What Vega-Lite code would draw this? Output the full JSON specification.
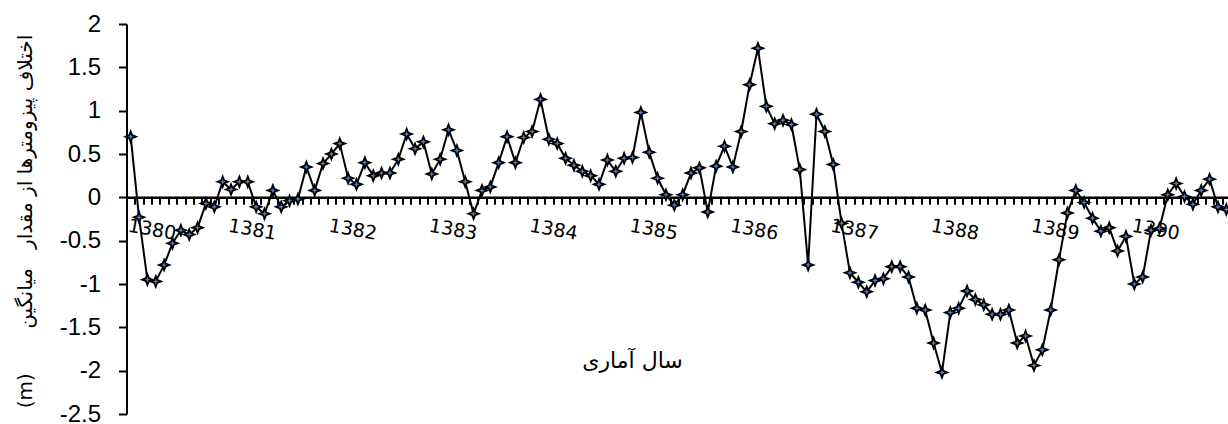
{
  "$schema": "https://vega.github.io/schema/vega-lite/v6.json",
  "autosize": "none",
  "padding": {"left": 126.5, "top": 24, "right": 0, "bottom": 10},
  "width": 1104,
  "height": 390,
  "config": {"view": {"stroke": null}, "background": "white"},
  "data": {"values": [
    {"i":0,"v":0.70},{"i":1,"v":-0.23},{"i":2,"v":-0.95},{"i":3,"v":-0.97},{"i":4,"v":-0.78},{"i":5,"v":-0.53},
    {"i":6,"v":-0.38},{"i":7,"v":-0.43},{"i":8,"v":-0.35},{"i":9,"v":-0.07},{"i":10,"v":-0.11},{"i":11,"v":0.18},
    {"i":12,"v":0.09},{"i":13,"v":0.18},{"i":14,"v":0.18},{"i":15,"v":-0.11},{"i":16,"v":-0.19},{"i":17,"v":0.08},
    {"i":18,"v":-0.11},{"i":19,"v":-0.04},{"i":20,"v":-0.02},{"i":21,"v":0.35},{"i":22,"v":0.08},{"i":23,"v":0.39},
    {"i":24,"v":0.50},{"i":25,"v":0.62},{"i":26,"v":0.22},{"i":27,"v":0.15},{"i":28,"v":0.40},{"i":29,"v":0.25},
    {"i":30,"v":0.28},{"i":31,"v":0.28},{"i":32,"v":0.44},{"i":33,"v":0.73},{"i":34,"v":0.56},{"i":35,"v":0.64},
    {"i":36,"v":0.27},{"i":37,"v":0.44},{"i":38,"v":0.78},{"i":39,"v":0.54},{"i":40,"v":0.18},{"i":41,"v":-0.19},
    {"i":42,"v":0.08},{"i":43,"v":0.12},{"i":44,"v":0.40},{"i":45,"v":0.70},{"i":46,"v":0.40},{"i":47,"v":0.69},
    {"i":48,"v":0.76},{"i":49,"v":1.13},{"i":50,"v":0.67},{"i":51,"v":0.62},{"i":52,"v":0.45},{"i":53,"v":0.37},
    {"i":54,"v":0.30},{"i":55,"v":0.25},{"i":56,"v":0.15},{"i":57,"v":0.43},{"i":58,"v":0.30},{"i":59,"v":0.45},
    {"i":60,"v":0.46},{"i":61,"v":0.98},{"i":62,"v":0.52},{"i":63,"v":0.22},{"i":64,"v":0.03},{"i":65,"v":-0.09},
    {"i":66,"v":0.03},{"i":67,"v":0.28},{"i":68,"v":0.34},{"i":69,"v":-0.17},{"i":70,"v":0.36},{"i":71,"v":0.59},
    {"i":72,"v":0.35},{"i":73,"v":0.76},{"i":74,"v":1.30},{"i":75,"v":1.72},{"i":76,"v":1.05},{"i":77,"v":0.85},
    {"i":78,"v":0.89},{"i":79,"v":0.84},{"i":80,"v":0.32},{"i":81,"v":-0.78},{"i":82,"v":0.96},{"i":83,"v":0.76},
    {"i":84,"v":0.38},{"i":85,"v":-0.30},{"i":86,"v":-0.87},{"i":87,"v":-0.98},{"i":88,"v":-1.09},{"i":89,"v":-0.96},
    {"i":90,"v":-0.94},{"i":91,"v":-0.80},{"i":92,"v":-0.80},{"i":93,"v":-0.92},{"i":94,"v":-1.28},{"i":95,"v":-1.30},
    {"i":96,"v":-1.68},{"i":97,"v":-2.02},{"i":98,"v":-1.33},{"i":99,"v":-1.28},{"i":100,"v":-1.08},{"i":101,"v":-1.18},
    {"i":102,"v":-1.24},{"i":103,"v":-1.35},{"i":104,"v":-1.35},{"i":105,"v":-1.30},{"i":106,"v":-1.68},{"i":107,"v":-1.60},
    {"i":108,"v":-1.94},{"i":109,"v":-1.76},{"i":110,"v":-1.30},{"i":111,"v":-0.72},{"i":112,"v":-0.18},{"i":113,"v":0.08},
    {"i":114,"v":-0.06},{"i":115,"v":-0.24},{"i":116,"v":-0.39},{"i":117,"v":-0.35},{"i":118,"v":-0.62},{"i":119,"v":-0.45},
    {"i":120,"v":-1.00},{"i":121,"v":-0.92},{"i":122,"v":-0.38},{"i":123,"v":-0.36},{"i":124,"v":0.03},{"i":125,"v":0.16},
    {"i":126,"v":0.01},{"i":127,"v":-0.08},{"i":128,"v":0.08},{"i":129,"v":0.21},{"i":130,"v":-0.11},{"i":131,"v":-0.14}
  ]},
  "encoding": {
    "x": {
      "field": "i", "type": "quantitative",
      "scale": {"domain": [-0.5, 131.5], "nice": false, "zero": false},
      "axis": {
        "orient": "bottom",
        "offset": -216.7,
        "values": [0.5,1.5,2.5,3.5,4.5,5.5,6.5,7.5,8.5,9.5,10.5,11.5,12.5,13.5,14.5,15.5,16.5,17.5,18.5,19.5,20.5,21.5,22.5,23.5,24.5,25.5,26.5,27.5,28.5,29.5,30.5,31.5,32.5,33.5,34.5,35.5,36.5,37.5,38.5,39.5,40.5,41.5,42.5,43.5,44.5,45.5,46.5,47.5,48.5,49.5,50.5,51.5,52.5,53.5,54.5,55.5,56.5,57.5,58.5,59.5,60.5,61.5,62.5,63.5,64.5,65.5,66.5,67.5,68.5,69.5,70.5,71.5,72.5,73.5,74.5,75.5,76.5,77.5,78.5,79.5,80.5,81.5,82.5,83.5,84.5,85.5,86.5,87.5,88.5,89.5,90.5,91.5,92.5,93.5,94.5,95.5,96.5,97.5,98.5,99.5,100.5,101.5,102.5,103.5,104.5,105.5,106.5,107.5,108.5,109.5,110.5,111.5,112.5,113.5,114.5,115.5,116.5,117.5,118.5,119.5,120.5,121.5,122.5,123.5,124.5,125.5,126.5,127.5,128.5,129.5,130.5,131.5],
        "labelExpr": "(datum.value - 2.5) % 12 == 0 ? '' + (1380 + (datum.value - 2.5) / 12) : ''",
        "labelAngle": 10,
        "labelAlign": "center",
        "labelBaseline": "middle",
        "labelPadding": 25,
        "labelFont": "DejaVu Sans",
        "labelFontSize": 19,
        "labelColor": "black",
        "labelOverlap": false,
        "labelBound": false,
        "labelFlush": false,
        "grid": false,
        "domainColor": "black",
        "domainWidth": 2.5,
        "tickColor": "black",
        "tickWidth": 2,
        "tickSize": 7,
        "title": "سال آماری",
        "titleFont": "DejaVu Sans",
        "titleFontSize": 22,
        "titleFontWeight": "normal",
        "titleColor": "black",
        "titleX": 505.5,
        "titleY": 163,
        "titleAlign": "center",
        "titleBaseline": "middle"
      }
    },
    "y": {
      "field": "v", "type": "quantitative",
      "scale": {"domain": [-2.5, 2], "nice": false, "zero": false},
      "axis": {
        "values": [-2.5,-2,-1.5,-1,-0.5,0,0.5,1,1.5,2],
        "labelExpr": "'' + datum.value",
        "labelFont": "Liberation Sans",
        "labelFontSize": 24,
        "labelColor": "black",
        "labelPadding": 18,
        "labelOverlap": false,
        "labelBound": false,
        "labelFlush": false,
        "grid": false,
        "domainColor": "black",
        "domainWidth": 2,
        "tickColor": "black",
        "tickWidth": 2,
        "tickSize": 8,
        "title": "(m)\u00a0\u00a0\u00a0\u00a0\u00a0\u00a0 اختلاف پیزومترها از مقدار\u00a0\u00a0 میانگین",
        "titleFont": "DejaVu Sans",
        "titleFontSize": 20,
        "titleFontWeight": "normal",
        "titleColor": "black",
        "titleX": -101,
        "titleY": 197,
        "titleAngle": 270,
        "titleAlign": "center",
        "titleBaseline": "middle"
      }
    }
  },
  "layer": [
    {"mark": {"type": "line", "color": "black", "strokeWidth": 2}},
    {"mark": {"type": "point", "shape": "M0,-1L0.28,-0.28L1,0L0.28,0.28L0,1L-0.28,0.28L-1,0L-0.28,-0.28Z", "size": 110, "filled": true, "fill": "#4F81BD", "stroke": "black", "strokeWidth": 1.8, "opacity": 1}}
  ]
}
